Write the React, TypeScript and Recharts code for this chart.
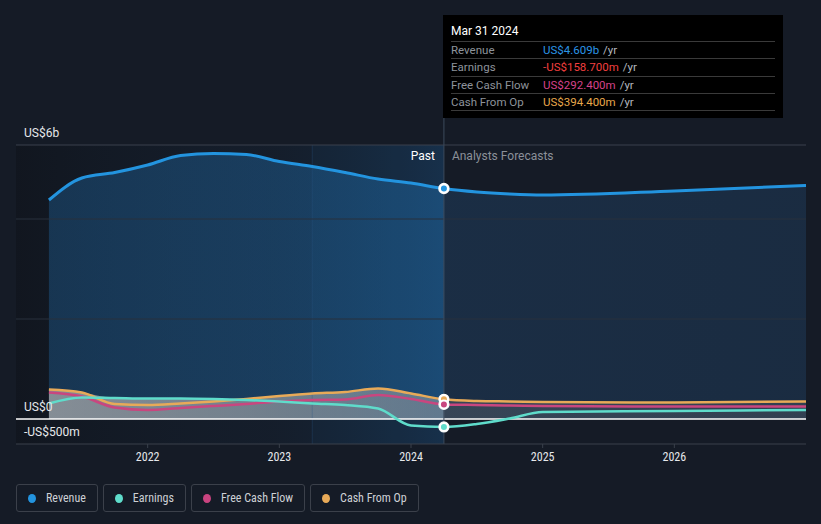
import React from 'react';
import {
  ComposedChart,
  Area,
  Line,
  XAxis,
  YAxis,
  ReferenceArea,
  ReferenceLine,
  ReferenceDot,
  Tooltip,
} from 'recharts';

// periods as decimal years (quarter ends), values in US$ billions
const periods = [
  2021.25, 2021.5, 2021.75, 2022, 2022.25, 2022.5, 2022.75, 2023, 2023.25, 2023.5, 2023.75, 2024, 2024.25,
  2024.5, 2024.75, 2025, 2026, 2027,
];
const revenue = [4.38, 4.82, 4.93, 5.08, 5.27, 5.31, 5.29, 5.15, 5.05, 4.93, 4.8, 4.72, 4.609, 4.54, 4.5, 4.48, 4.56, 4.67];
const earnings = [0.31, 0.43, 0.42, 0.41, 0.41, 0.4, 0.38, 0.35, 0.31, 0.28, 0.21, -0.13, -0.1587, -0.1, 0.01, 0.14, 0.16, 0.18];
const freeCashFlow = [0.53, 0.45, 0.23, 0.18, 0.22, 0.26, 0.3, 0.35, 0.38, 0.39, 0.48, 0.4, 0.2924, 0.28, 0.27, 0.26, 0.25, 0.25];
const cashFromOp = [0.59, 0.53, 0.3, 0.28, 0.31, 0.35, 0.4, 0.46, 0.51, 0.54, 0.61, 0.51, 0.3944, 0.36, 0.35, 0.34, 0.33, 0.35];

const yearTicks = [2022, 2023, 2024, 2025, 2026];
const yTicks = [-0.5, 0, 5.48];
const yTickLabels: Record<string, string> = { '-0.5': '-US$500m', '0': 'US$0', '5.48': 'US$6b' };

const presentIndex = 12;
const presentLabel = 'Mar 31 2024';

const series = [
  { key: 'revenue', name: 'Revenue', color: '#2394df', valueColor: '#2b95e6' },
  { key: 'earnings', name: 'Earnings', color: '#5fdccb', valueColor: '#f23f3f' },
  { key: 'fcf', name: 'Free Cash Flow', color: '#c9437f', valueColor: '#d5428a' },
  { key: 'cfo', name: 'Cash From Op', color: '#e8aa58', valueColor: '#e8a84b' },
];

const data = periods.map((p, i) => ({
  x: p,
  revenue: revenue[i],
  earnings: earnings[i],
  fcf: freeCashFlow[i],
  cfo: cashFromOp[i],
  envelope: Math.max(earnings[i], freeCashFlow[i], cashFromOp[i], 0),
}));

const W = 821;
const H = 470;
const FONT = 'Roboto, "Noto Sans", sans-serif';
const NARROW = '"Roboto Condensed", "Liberation Sans Narrow", Roboto, sans-serif';

const fmt = (v: number) => {
  const sign = v < 0 ? '-' : '';
  const a = Math.abs(v);
  return a >= 1 ? `${sign}US$${a.toFixed(3)}b` : `${sign}US$${(a * 1000).toFixed(3)}m`;
};

const pastFrac = (periods[presentIndex] - periods[0]) / (periods[periods.length - 1] - periods[0]);

const YTick = (props: any) => {
  const { y, payload } = props;
  return (
    <text x={24} y={y - 8} fill="#e6e8eb" fontSize={12} fontFamily={FONT}>
      {yTickLabels[String(payload.value)]}
    </text>
  );
};

const TooltipBox = (props: any) => {
  const idx = periods.indexOf(props.label);
  const i = idx >= 0 ? idx : presentIndex;
  const rows = [
    { s: series[0], v: revenue[i] },
    { s: series[1], v: earnings[i] },
    { s: series[2], v: freeCashFlow[i] },
    { s: series[3], v: cashFromOp[i] },
  ];
  return (
    <div
      style={{
        width: 340,
        height: 103,
        background: '#000',
        boxSizing: 'border-box',
        padding: '9px 8px 0 8px',
        fontFamily: FONT,
        fontSize: 11.5,
      }}
    >
      <div style={{ color: '#fff', fontSize: 12, height: 17, borderBottom: '1px solid #3a3a3a' }}>{presentLabel}</div>
      {rows.map((r) => (
        <div
          key={r.s.key}
          style={{ display: 'flex', height: 16.3, lineHeight: '16px', borderBottom: '1px solid #3a3a3a' }}
        >
          <span style={{ width: 92, color: '#8e939b' }}>{r.s.name}</span>
          <span style={{ color: r.s.valueColor }}>{fmt(r.v)}</span>
          <span style={{ color: '#b4b8bf', marginLeft: 4 }}>/yr</span>
        </div>
      ))}
    </div>
  );
};

const DividerLabel = (props: any) => {
  const { viewBox } = props;
  const x = viewBox.x;
  const y = viewBox.y + 15;
  return (
    <g fontFamily={FONT} fontSize={12}>
      <text x={x - 9} y={y} fill="#ffffff" textAnchor="end">
        Past
      </text>
      <text x={x + 8} y={y} fill="#8b9099">
        Analysts Forecasts
      </text>
    </g>
  );
};

export default function App() {
  const present = periods[presentIndex];
  return (
    <div style={{ position: 'absolute', left: 0, top: 0, width: 821, height: 524, background: '#151b26' }}>
      <ComposedChart width={W} height={H} data={data} margin={{ top: 145, right: 15, bottom: 0, left: 16 }}>
        <defs>
          <linearGradient id="pastBg" x1="0" y1="0" x2="1" y2="0">
            <stop offset="0%" stopColor="#000000" stopOpacity={0.18} />
            <stop offset="60%" stopColor="#123456" stopOpacity={0.1} />
            <stop offset="100%" stopColor="#1c5c94" stopOpacity={0.28} />
          </linearGradient>
          <linearGradient id="revFill" x1="0" y1="0" x2="1" y2="0">
            <stop offset="0%" stopColor="#1f5f95" stopOpacity={0.42} />
            <stop offset={`${pastFrac * 100}%`} stopColor="#2070b0" stopOpacity={0.42} />
            <stop offset={`${pastFrac * 100 + 0.1}%`} stopColor="#22476e" stopOpacity={0.42} />
            <stop offset="100%" stopColor="#22476e" stopOpacity={0.38} />
          </linearGradient>
          <linearGradient id="smallFill" x1="0" y1="0" x2="1" y2="0">
            <stop offset="0%" stopColor="#b0b0b0" stopOpacity={0.72} />
            <stop offset={`${pastFrac * 100}%`} stopColor="#a8a8a8" stopOpacity={0.5} />
            <stop offset={`${pastFrac * 100 + 0.1}%`} stopColor="#909090" stopOpacity={0.24} />
            <stop offset="100%" stopColor="#909090" stopOpacity={0.2} />
          </linearGradient>
        </defs>

        <XAxis
          dataKey="x"
          type="number"
          domain={[2021, 2027]}
          ticks={yearTicks}
          height={26}
          tickSize={4}
          tickMargin={4}
          axisLine={{ stroke: '#3a404b' }}
          tickLine={{ stroke: '#3a404b' }}
          tick={{ fill: '#e6e8eb', fontSize: 12, fontFamily: NARROW }}
          allowDataOverflow
        />
        <YAxis
          type="number"
          domain={[-0.5, 5.48]}
          ticks={yTicks}
          mirror
          axisLine={false}
          tickLine={false}
          tick={<YTick />}
          allowDataOverflow
        />

        <ReferenceArea x1={2021} x2={present} y1={-0.5} y2={5.48} fill="url(#pastBg)" fillOpacity={1} stroke="none" />
        <ReferenceArea x1={2023.25} x2={present} y1={-0.5} y2={5.48} fill="#2a7cc8" fillOpacity={0.05} stroke="none" />
        <ReferenceLine x={2023.25} stroke="#2a5a85" strokeOpacity={0.3} />

        <ReferenceLine y={5.48} stroke="#3b414c" />
        <ReferenceLine y={4} stroke="#28303d" />
        <ReferenceLine y={2} stroke="#28303d" />

        <Area
          type="monotone"
          dataKey="revenue"
          stroke="none"
          fill="url(#revFill)"
          fillOpacity={1}
          isAnimationActive={false}
        />
        <Area
          type="monotone"
          dataKey="envelope"
          stroke="none"
          fill="url(#smallFill)"
          fillOpacity={1}
          isAnimationActive={false}
        />

        <ReferenceLine y={0} stroke="#ffffff" strokeWidth={1.5} />

        <ReferenceLine
          segment={[
            { x: present, y: -0.5 },
            { x: present, y: 6.02 },
          ]}
          ifOverflow="visible"
          stroke="#3b4a5c"
        />
        <ReferenceLine x={present} stroke="none" label={<DividerLabel />} />

        <Line type="monotone" dataKey="cfo" stroke="#e8aa58" strokeWidth={2.5} dot={false} isAnimationActive={false} />
        <Line type="monotone" dataKey="fcf" stroke="#c9467f" strokeWidth={2.5} dot={false} isAnimationActive={false} />
        <Line type="monotone" dataKey="earnings" stroke="#5fdccb" strokeWidth={2.5} dot={false} isAnimationActive={false} />
        <Line type="monotone" dataKey="revenue" stroke="#2394df" strokeWidth={3} dot={false} isAnimationActive={false} />

        <ReferenceDot x={present} y={cashFromOp[presentIndex]} r={5} fill="#e8aa58" stroke="#f2f2f2" strokeWidth={1.2} />
        <ReferenceDot x={present} y={freeCashFlow[presentIndex]} r={5} fill="#c9467f" stroke="#f2f2f2" strokeWidth={1.2} />
        <ReferenceDot x={present} y={earnings[presentIndex]} r={5} fill="#5fdccb" stroke="#f2f2f2" strokeWidth={1.2} />
        <ReferenceDot x={present} y={revenue[presentIndex]} r={5} fill="#2394df" stroke="#f2f2f2" strokeWidth={1.5} />

        <Tooltip
          defaultIndex={presentIndex}
          active
          cursor={false}
          position={{ x: 443, y: 15 }}
          content={<TooltipBox />}
          isAnimationActive={false}
          wrapperStyle={{ outline: 'none' }}
        />
      </ComposedChart>

      <div style={{ position: 'absolute', left: 16, top: 484, display: 'flex', gap: 5 }}>
        {series.map((s) => (
          <div
            key={s.key}
            style={{
              height: 28,
              boxSizing: 'border-box',
              border: '1px solid #3b404a',
              borderRadius: 3,
              display: 'flex',
              alignItems: 'center',
              padding: '0 11px 0 11px',
              fontFamily: NARROW,
              fontSize: 12,
              color: '#cdd0d5',
            }}
          >
            <span
              style={{ width: 8, height: 9, borderRadius: '50%', background: s.color, display: 'inline-block', marginRight: 10 }}
            />
            {s.name}
          </div>
        ))}
      </div>
    </div>
  );
}
